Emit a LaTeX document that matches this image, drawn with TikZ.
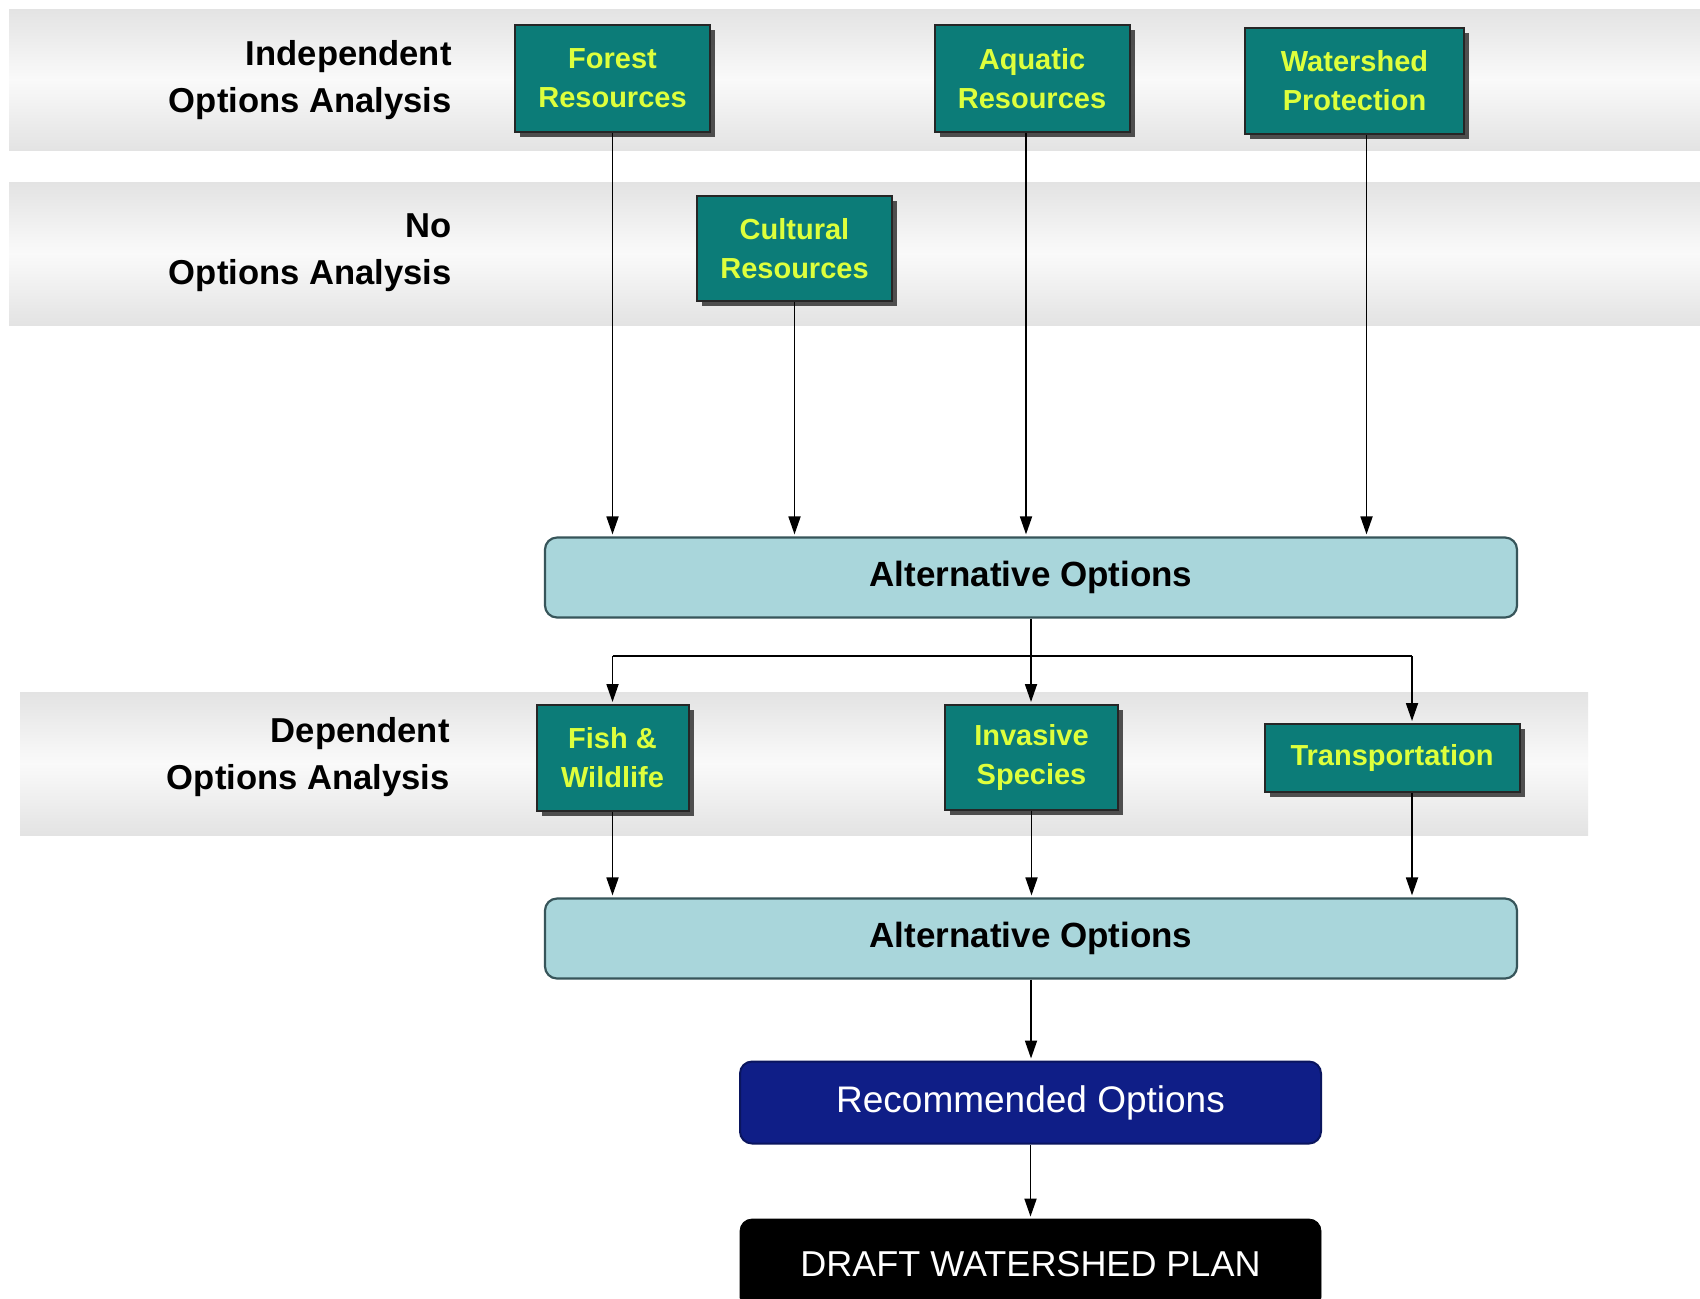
\documentclass[tikz,border=0pt]{standalone}
\usepackage{fontspec}
\setmainfont{Liberation Sans}
\usetikzlibrary{arrows.meta,shadows}
\definecolor{teal box}{RGB}{12,124,120}
\definecolor{teal text}{RGB}{222,255,60}
\definecolor{alt fill}{RGB}{169,214,219}
\definecolor{alt line}{RGB}{55,85,90}
\definecolor{rec fill}{RGB}{15,30,135}
\tikzset{
  res/.style={draw=black!85,line width=1pt,fill=teal box,text=teal text,
    font=\fontsize{14.5}{19.5}\bfseries,align=center,inner sep=0pt,
    drop shadow={shadow xshift=2.5pt,shadow yshift=-2.5pt,fill=black!80,opacity=.85}},
  altbox/.style={draw=alt line,line width=1.1pt,fill=alt fill,rounded corners=6pt,
    font=\fontsize{17.5}{21}\bfseries,inner sep=0pt,minimum width=486pt,minimum height=40pt},
  rowlabel/.style={font=\fontsize{17.3}{23.5}\bfseries,align=right,inner sep=0pt,anchor=east},
  band/.style={top color=gray!22,bottom color=gray!22,middle color=white!96!gray},
  arr/.style={-{Triangle[length=9pt,width=6pt]},line width=0.9pt,shorten >=1pt}
}
\begin{document}
\begin{tikzpicture}[x=0.5pt,y=-0.5pt]
\useasboundingbox (0,0) rectangle (1700,1298);
\fill[white] (0,0) rectangle (1700,1298);
% bands
\shade[band] (9,9) rectangle (1700,150);
\shade[band] (9,182) rectangle (1700,325);
\shade[band] (20,692) rectangle (1588,835);
% row labels
\node [rowlabel] at (452,80) (indep) {Independent\\Options Analysis};
\node [rowlabel] at (452,253) (noopt) {No\\Options Analysis};
\node [rowlabel] at (450,757) (dep) {Dependent\\Options Analysis};
% resource boxes
\node [res,minimum width=97.5pt,minimum height=53.5pt] at (612.5,78.5) (forest) {Forest\\Resources};
\node [res,minimum width=97.5pt,minimum height=53.5pt] at (1032,78.5) (aquatic) {Aquatic\\Resources};
\node [res,minimum width=109.5pt,minimum height=53pt] at (1354.5,81) (watershed) {Watershed\\Protection};
\node [res,minimum width=97.5pt,minimum height=52.5pt] at (794.5,248.5) (cultural) {Cultural\\Resources};
\node [altbox] at (1031,577.5) (alt1) {Alternative Options};
\node [res,minimum width=76pt,minimum height=53pt] at (612.5,758) (fish) {Fish \&\\Wildlife};
\node [res,minimum width=86.5pt,minimum height=52.5pt] at (1031.5,757.5) (invasive) {Invasive\\Species};
\node [res,minimum width=127.5pt,minimum height=34pt] at (1392,758) (transport) {Transportation};
\node [altbox] at (1031,938.5) (alt2) {Alternative Options};
\node [draw=rec fill!70!black,line width=1pt,fill=rec fill,text=white,rounded corners=6pt,
  font=\fontsize{18.5}{22}\selectfont,minimum width=290.5pt,minimum height=41pt,inner sep=0pt]
  at (1030.5,1102.5) (rec) {Recommended Options};
\node [draw=black,fill=black,text=white,rounded corners=6pt,
  font=\fontsize{18}{22}\selectfont,minimum width=290.5pt,minimum height=45pt,inner sep=0pt]
  at (1030.5,1264) (draft) {DRAFT WATERSHED PLAN};
\coordinate (busL) at (612.5,656);
\coordinate (busR) at (1412,656);
%
\path[arr] (forest.south) edge (forest.south |- alt1.north);
\path[arr] (cultural.south) edge (cultural.south |- alt1.north);
\path[arr] ([xshift=-3pt]aquatic.south) edge ([xshift=-3pt]aquatic.south |- alt1.north);
\path[arr] ([xshift=6pt]watershed.south) edge ([xshift=6pt]watershed.south |- alt1.north);
\path[arr] (alt1.south) edge (alt1.south |- invasive.north);
\draw[line width=0.9pt] (busL) -- (busR);
\path[arr] (busL) edge (busL |- fish.north);
\path[arr] (busR) edge (busR |- transport.north);
\path[arr] (fish.south) edge (fish.south |- alt2.north);
\path[arr] (invasive.south) edge (invasive.south |- alt2.north);
\path[arr] ([xshift=10pt]transport.south) edge ([xshift=10pt]transport.south |- alt2.north);
\path[arr] (alt2.south) edge (alt2.south |- rec.north);
\path[arr] (rec.south) edge (rec.south |- draft.north);
\end{tikzpicture}
\end{document}
